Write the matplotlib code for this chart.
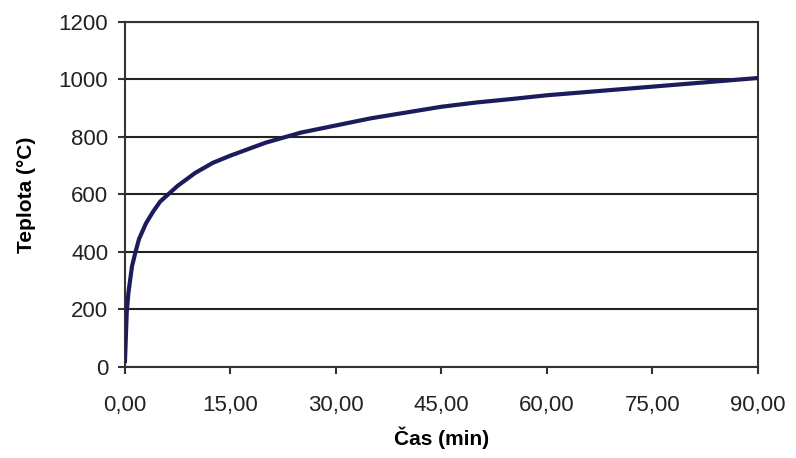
import matplotlib.pyplot as plt
from matplotlib.ticker import FuncFormatter

# values
cas = [0, 0.25, 0.5, 1, 1.5, 2, 3, 4, 5, 7.5, 10, 12.5, 15, 20, 25, 30, 35, 40, 45, 50, 55, 60, 65, 70, 75, 80, 85, 90]
teplota = [20, 190, 260, 350, 400, 445, 500, 540, 575, 630, 675, 710, 735, 780, 815, 840, 865, 885, 905, 920, 932, 945, 955, 965, 975, 985, 995, 1005]

xticks = [0, 15, 30, 45, 60, 75, 90]
yticks = [0, 200, 400, 600, 800, 1000, 1200]

plt.rcParams['font.family'] = ['Liberation Sans', 'DejaVu Sans']

fig = plt.figure(figsize=(7.96, 4.58), dpi=100)
ax = fig.add_axes([0.157, 0.199, 0.795, 0.753])

ax.plot(cas, teplota, color='#1c1c5c', linewidth=3, zorder=3)

ax.set_xlim(0, 90)
ax.set_ylim(0, 1200)
ax.set_xticks(xticks)
ax.set_yticks(yticks)
ax.xaxis.set_major_formatter(FuncFormatter(lambda v, p: ('%.2f' % v).replace('.', ',')))
ax.yaxis.grid(True, color='#222222', linewidth=1.5)
ax.set_axisbelow(True)

for s in ax.spines.values():
    s.set_color('#333333')
    s.set_linewidth(1.5)

ax.tick_params(axis='both', direction='out', length=5, width=1.5, color='#333333',
               labelsize=16, labelcolor='#222222')
ax.tick_params(axis='x', pad=15)
ax.tick_params(axis='y', pad=7)

ax.set_xlabel('Čas (min)', fontsize=15, fontweight='bold', labelpad=8)
ax.set_ylabel('Teplota (°C)', fontsize=15, fontweight='bold', labelpad=16)

fig.savefig('out.png', dpi=100)
